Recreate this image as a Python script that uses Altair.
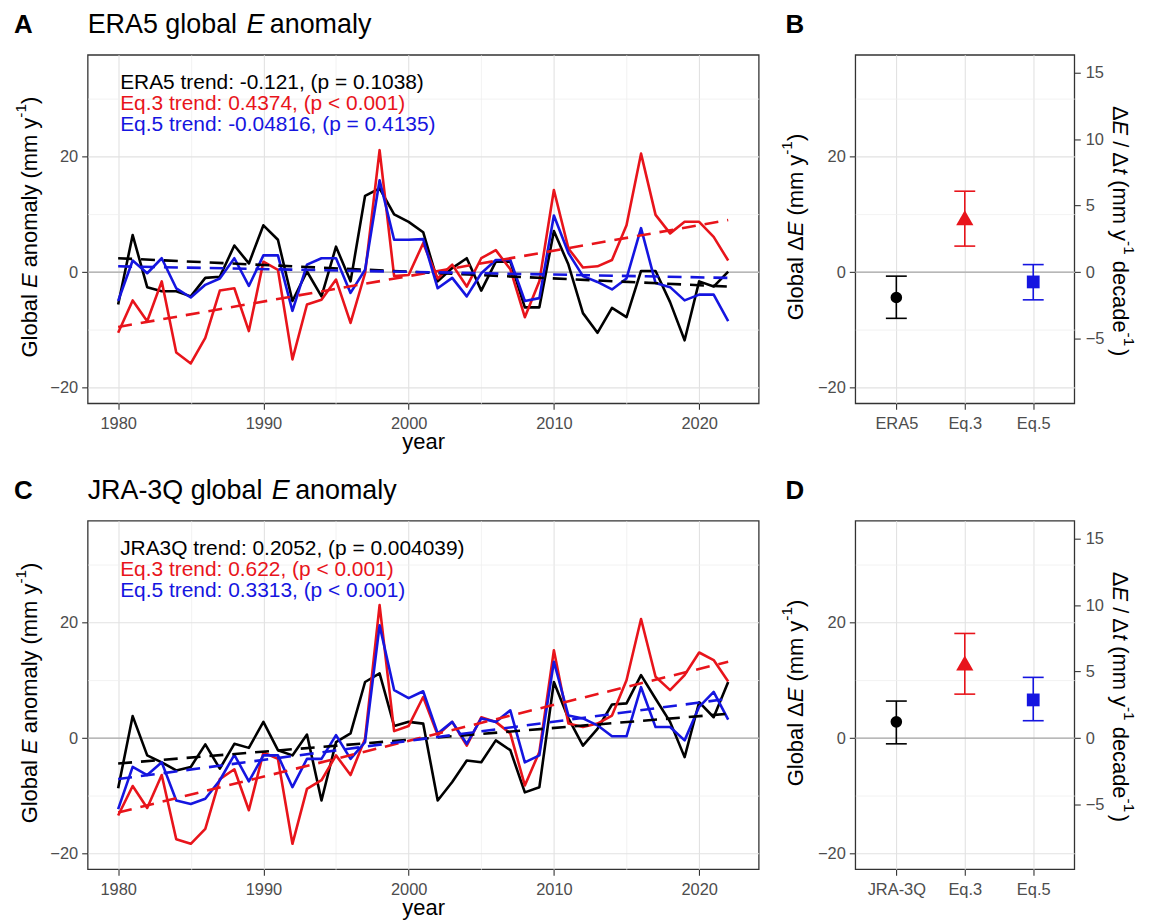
import altair as alt
import pandas as pd

# ---------------- data ----------------
YEARS = list(range(1980, 2023))

ERA5 = [-5.6, 6.4, -2.6, -3.3, -3.3, -4.2, -1.0, -0.8, 4.6, 1.5,
        8.1, 5.6, -5.0, 0.1, -4.2, 4.4, -1.6, 13.2, 14.5, 10.0,
        8.7, 6.9, -1.6, 0.7, 2.4, -3.2, 1.8, 1.8, -6.1, -6.1,
        7.1, 1.3, -7.1, -10.5, -6.2, -7.8, 0.2, 0.2, -5.2, -11.8,
        -1.6, -2.5, 0.1]
EQ3_A = [-10.5, -4.9, -8.5, -1.6, -13.9, -15.8, -11.4, -3.2, -2.8, -10.2,
         1.8, 0.4, -15.1, -5.6, -4.8, -1.3, -8.8, -0.2, 21.1, -0.7,
         -0.5, 5.0, -1.1, 1.3, -2.5, 2.4, 3.8, 0.5, -7.8, -1.6,
         14.2, 4.1, 0.8, 1.0, 2.1, 8.1, 20.5, 9.9, 6.7, 8.7,
         8.7, 6.1, 2.0]
EQ5_A = [-5.0, 2.0, -0.2, 2.4, -2.8, -4.4, -2.2, -1.1, 2.4, -2.4,
         2.9, 2.9, -6.7, 1.3, 2.4, 2.4, -3.6, 0.4, 15.9, 5.6,
         5.6, 5.7, -2.8, -1.0, -4.2, -0.2, 2.1, 2.1, -5.0, -4.5,
         9.8, 3.3, -0.7, -1.7, -3.0, -1.1, 7.6, -1.9, -2.6, -4.9,
         -3.9, -3.9, -8.5]

JRA3Q = [-8.7, 3.8, -3.0, -4.2, -5.6, -5.0, -1.1, -5.3, -1.0, -1.7,
         2.8, -2.1, -3.0, 0.6, -10.8, -0.7, 0.8, 9.7, 11.2, 2.1,
         2.8, 2.5, -10.8, -7.6, -3.9, -4.2, -0.4, -2.1, -9.4, -8.5,
         9.7, 3.4, -1.3, 1.6, 5.8, 6.0, 10.9, 6.8, 2.8, -3.3,
         6.2, 3.6, 9.7]
EQ3_C = [-13.4, -8.3, -12.1, -6.4, -17.5, -18.3, -15.7, -7.1, -5.4, -12.5,
         -2.5, -3.6, -18.3, -8.8, -7.3, -3.0, -6.4, -0.1, 23.0, 1.2,
         2.1, 7.1, 0.5, 2.8, -1.3, 3.6, 2.8, 0.8, -8.2, -2.4,
         15.2, 2.5, 1.9, 2.5, 3.9, 10.0, 20.6, 10.6, 8.3, 10.9,
         14.8, 13.5, 9.8]
EQ5_C = [-12.3, -5.0, -6.4, -4.2, -10.8, -11.4, -10.5, -7.3, -2.9, -7.5,
         -3.0, -3.0, -8.5, -3.6, -3.6, 0.5, -3.6, -0.7, 19.5, 8.3,
         6.9, 8.1, 0.8, 2.8, -1.0, 3.4, 2.8, 4.8, -4.2, -3.0,
         13.2, 3.9, 3.4, 2.2, 0.3, 0.3, 8.8, 1.9, 1.9, -0.4,
         5.4, 8.0, 3.2]

TREND_YEARS = [1980, 2022]
TREND_ERA5 = [2.4, -2.5]
TREND_EQ3_A = [-9.5, 9.0]
TREND_EQ5_A = [1.0, -1.0]
TREND_JRA3Q = [-4.4, 4.2]
TREND_EQ3_C = [-12.9, 13.2]
TREND_EQ5_C = [-7.1, 6.8]

ANNO_A = ["ERA5 trend: -0.121, (p = 0.1038)",
          "Eq.3 trend: 0.4374, (p < 0.001)",
          "Eq.5 trend: -0.04816, (p = 0.4135)"]
ANNO_C = ["JRA3Q trend: 0.2052, (p = 0.004039)",
          "Eq.3 trend: 0.622, (p < 0.001)",
          "Eq.5 trend: 0.3313, (p < 0.001)"]
ANNO_YEAR = 1980
ANNO_VALUE = [31.7, 28.08, 24.46]

CATS_B = ["ERA5", "Eq.3", "Eq.5"]
MEAN_B = [-4.4, 9.4, -1.7]
LO_B = [-8.0, 4.5, -4.8]
HI_B = [-0.7, 14.0, 1.3]

CATS_D = ["JRA-3Q", "Eq.3", "Eq.5"]
MEAN_D = [2.8, 13.0, 6.6]
LO_D = [-1.0, 7.6, 3.0]
HI_D = [6.4, 18.1, 10.5]

Y_DOMAIN = [-22.7, 37.6]
X_DOMAIN = [1977.9, 2024.1]
RIGHT_FACTOR = 2.3
Y_TICKS = [-20, -10, 0, 10, 20, 30]
X_TICKS = [1980, 1985, 1990, 1995, 2000, 2005, 2010, 2015, 2020]
RIGHT_TICKS = [-5, 0, 5, 10, 15]

# ---------------- style ----------------
FONT = "Liberation Sans"
BLACK = "#000000"
RED = "#e8141b"
BLUE = "#1515e0"
COLORS = [BLACK, RED, BLUE]
SHAPES = ["circle", "triangle-up", "square"]
SIZES = [135, 300, 165]
MAJOR = "#e2e2e2"
MINOR = "#efefef"
ZERO_C = "#a8a8a8"
LABEL_C = "#4d4d4d"
PW, PH = 674, 350
SW = 220

W = {' ': 278, '(': 333, ')': 333, ',': 278, '-': 333, '.': 278, '/': 278,
     ':': 278, '<': 584, '=': 584, 'Δ': 668, 'A': 667, 'E': 667, 'G': 778,
     'J': 500, 'Q': 778, 'R': 722, 'a': 556, 'b': 556, 'c': 500, 'd': 556,
     'e': 556, 'g': 556, 'l': 222, 'm': 833, 'n': 556, 'o': 556, 'p': 556,
     'q': 556, 'r': 333, 't': 278, 'y': 500}


def text_width(s, size):
    return sum(W.get(ch, 556) for ch in s) / 1000.0 * size


def piece(text, x, y, size, angle=0, style="normal", weight="normal",
          baseline="alphabetic", dy=0, color=BLACK):
    return alt.Chart(pd.DataFrame({"t": [text]})).mark_text(
        align="left", baseline=baseline, angle=angle, font=FONT,
        fontSize=size, fontStyle=style, fontWeight=weight, dy=dy, color=color
    ).encode(text="t:N", x=alt.value(x), y=alt.value(y))


def rich(segs, x0, y0, size, angle=0, baseline="alphabetic", center=False):
    widths = []
    for kind, val in segs:
        if kind == "gap":
            widths.append(val * size)
        elif kind == "sup":
            widths.append(text_width(val, size * 0.7))
        else:
            widths.append(text_width(val, size))
    total = sum(widths)
    ux, uy = {0: (1, 0), 270: (0, -1), 90: (0, 1)}[angle]
    pos = -total / 2 if center else 0
    out = []
    for (kind, val), w in zip(segs, widths):
        if kind != "gap":
            out.append(piece(val, x0 + ux * pos, y0 + uy * pos,
                             size * 0.7 if kind == "sup" else size, angle,
                             style="italic" if kind == "i" else "normal",
                             baseline=baseline,
                             dy=-0.42 * size if kind == "sup" else 0))
        pos += w
    return out


def y_axis():
    minor = "datum.value % 20 != 0"
    return alt.Axis(values=Y_TICKS, title=None, domain=False,
                    labelExpr="datum.value % 20 == 0 ? datum.label : ''",
                    tickOpacity={"condition": {"test": minor, "value": 0}, "value": 1},
                    gridColor={"condition": {"test": minor, "value": MINOR}, "value": MAJOR},
                    gridWidth={"condition": {"test": minor, "value": 0.8}, "value": 1.1},
                    tickSize=6, labelPadding=4)


def x_axis_years():
    minor = "datum.value % 10 != 0"
    return alt.Axis(values=X_TICKS, format="d", title="year", domain=False,
                    labelExpr="datum.value % 10 == 0 ? datum.label : ''",
                    tickOpacity={"condition": {"test": minor, "value": 0}, "value": 1},
                    gridColor={"condition": {"test": minor, "value": MINOR}, "value": MAJOR},
                    gridWidth={"condition": {"test": minor, "value": 0.8}, "value": 1.1},
                    tickSize=6, labelPadding=6, titleFontSize=22,
                    titleFontWeight="normal", titleColor=BLACK, titlePadding=0)


YSCALE = alt.Scale(domain=Y_DOMAIN, nice=False, zero=False)


def ts_panel(series, trends, anno, title_segs, label):
    X = alt.X("year:Q", scale=alt.Scale(domain=X_DOMAIN, nice=False, zero=False),
              axis=x_axis_years())
    Y = alt.Y("value:Q", scale=YSCALE, axis=y_axis())
    layers = [alt.Chart(pd.DataFrame({"value": [0]})).mark_rule(
        color=ZERO_C, strokeWidth=1.2).encode(y=Y)]
    for vals, col in zip(series, COLORS):
        df = pd.DataFrame({"year": YEARS, "value": vals})
        layers.append(alt.Chart(df).mark_line(
            color=col, strokeWidth=2.6, strokeJoin="round").encode(x=X, y=Y))
    for tv, col in zip(trends, COLORS):
        df = pd.DataFrame({"year": TREND_YEARS, "value": tv})
        layers.append(alt.Chart(df).mark_line(
            color=col, strokeWidth=2.6, strokeDash=[14, 9]).encode(x=X, y=Y))
    adf = pd.DataFrame({"year": [ANNO_YEAR] * 3, "value": ANNO_VALUE,
                        "t": anno, "c": COLORS})
    layers.append(alt.Chart(adf).mark_text(
        align="left", baseline="alphabetic", font=FONT, fontSize=21, dx=2
    ).encode(x=X, y=Y, text="t:N", color=alt.Color("c:N", scale=None)))
    layers += rich(title_segs, 0, -22, 27)
    layers.append(piece(label, -74, -22, 26, weight="bold"))
    layers += rich([("n", "Global"), ("gap", 0.278), ("i", "E"), ("gap", 0.278),
                    ("n", "anomaly (mm y"), ("sup", "-1"), ("n", ")")],
                   -58, 173, 22, angle=270, baseline="middle", center=True)
    return alt.layer(*layers).properties(width=PW, height=PH)


def trend_panel(cats, mean, lo, hi, label):
    X = alt.X("cat:N", scale=alt.Scale(type="point", domain=cats, padding=0.6),
              axis=alt.Axis(title=None, grid=True, gridColor=MAJOR, gridWidth=1.1,
                            labelAngle=0, tickSize=6, labelPadding=6, domain=False))

    def Y(field):
        return alt.Y(field, scale=YSCALE, axis=y_axis())

    layers = [alt.Chart(pd.DataFrame({"value": [0]})).mark_rule(
        color=ZERO_C, strokeWidth=1.2).encode(y=Y("value:Q"))]
    for i in range(len(cats)):
        df = pd.DataFrame({"cat": [cats[i]], "mean": [mean[i]],
                           "lo": [lo[i]], "hi": [hi[i]]})
        base = alt.Chart(df)
        layers.append(base.mark_rule(color=COLORS[i], strokeWidth=1.6).encode(
            x=X, y=Y("lo:Q"), y2="hi:Q"))
        layers.append(base.mark_tick(color=COLORS[i], size=21, thickness=1.6,
                                     opacity=1).encode(x=X, y=Y("lo:Q")))
        layers.append(base.mark_tick(color=COLORS[i], size=21, thickness=1.6,
                                     opacity=1).encode(x=X, y=Y("hi:Q")))
        layers.append(base.mark_point(shape=SHAPES[i], size=SIZES[i], filled=True,
                                      color=COLORS[i], opacity=1).encode(
            x=X, y=Y("mean:Q")))
    layers.append(piece(label, -70, -22, 26, weight="bold"))
    layers += rich([("n", "Global Δ"), ("i", "E"), ("gap", 0.278),
                    ("n", "(mm y"), ("sup", "-1"), ("n", ")")],
                   -59, 173, 22, angle=270, baseline="middle", center=True)
    layers += rich([("n", "Δ"), ("i", "E"), ("gap", 0.278), ("n", "/ Δ"), ("i", "t"),
                    ("gap", 0.278), ("n", "(mm y"), ("sup", "-1"), ("gap", 0.278),
                    ("n", "decade"), ("sup", "-1"), ("gap", 0.12), ("n", ")")],
                   266, 177, 22, angle=90, baseline="middle", center=True)
    left = alt.layer(*layers)
    rdom = [d / RIGHT_FACTOR for d in Y_DOMAIN]
    right = alt.Chart(pd.DataFrame({"r": RIGHT_TICKS})).mark_rule(opacity=0).encode(
        y=alt.Y("r:Q", scale=alt.Scale(domain=rdom, nice=False, zero=False),
                axis=alt.Axis(orient="right", values=RIGHT_TICKS, title=None,
                              grid=False, domain=False, tickSize=6, labelPadding=5)))
    return alt.layer(left, right).resolve_scale(y="independent").properties(
        width=SW, height=PH)


A = ts_panel([ERA5, EQ3_A, EQ5_A], [TREND_ERA5, TREND_EQ3_A, TREND_EQ5_A], ANNO_A,
             [("n", "ERA5 global"), ("gap", 0.35), ("i", "E"), ("gap", 0.2),
              ("n", "anomaly")], "A")
C = ts_panel([JRA3Q, EQ3_C, EQ5_C], [TREND_JRA3Q, TREND_EQ3_C, TREND_EQ5_C], ANNO_C,
             [("n", "JRA-3Q global"), ("gap", 0.35), ("i", "E"), ("gap", 0.2),
              ("n", "anomaly")], "C")
B = trend_panel(CATS_B, MEAN_B, LO_B, HI_B, "B")
D = trend_panel(CATS_D, MEAN_D, LO_D, HI_D, "D")

chart = alt.vconcat(
    alt.hconcat(A, B, spacing=19),
    alt.hconcat(C, D, spacing=19),
    spacing=22,
).configure_view(
    stroke="#333333", strokeWidth=1.3
).configure_axis(
    labelFont=FONT, labelFontSize=16.5, labelColor=LABEL_C,
    tickColor="#333333", tickWidth=1.1, titleFont=FONT
).properties(
    padding={"left": 5, "top": 0, "right": 5, "bottom": 5},
    background="white"
)

chart.save("out.html", embed_options={"renderer": "svg", "actions": False})
